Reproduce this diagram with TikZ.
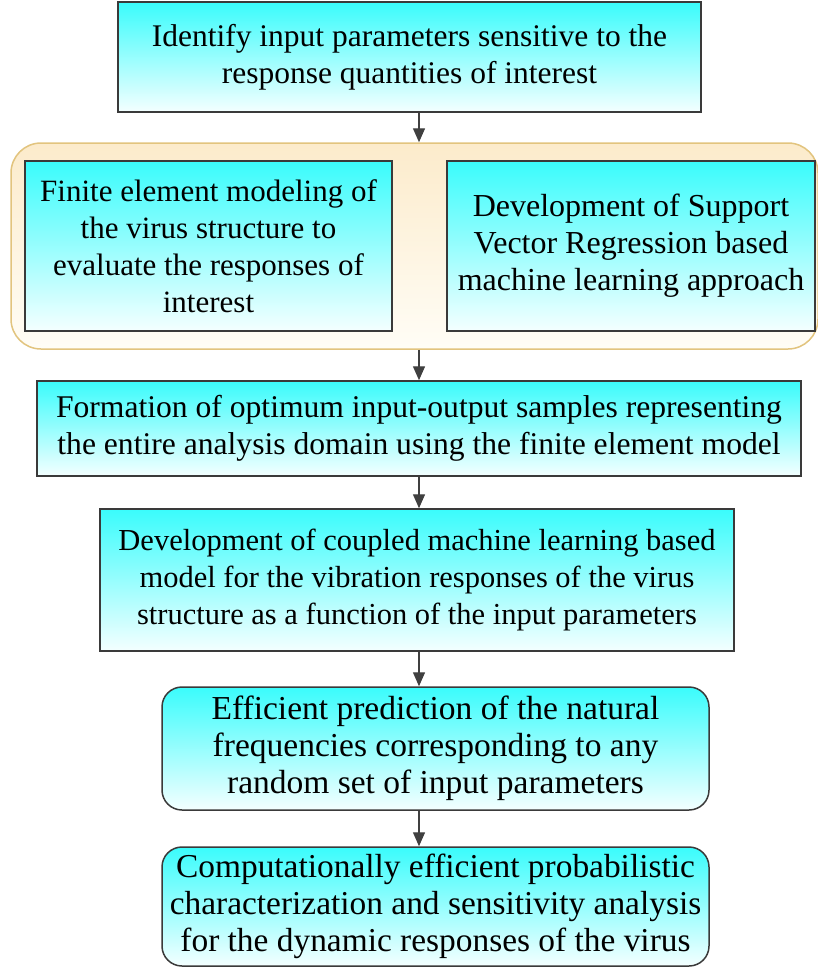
\documentclass[tikz,border=0pt]{standalone}
\usepackage{fontspec}
\setmainfont{Liberation Serif}
\usetikzlibrary{arrows.meta}
\definecolor{cyantop}{HTML}{3AFCFC}
\definecolor{cyanbot}{HTML}{F4FFFF}
\definecolor{boxline}{HTML}{3A3A3A}
\definecolor{creamtop}{HTML}{FCEBCB}
\definecolor{creambot}{HTML}{FFFDF6}
\definecolor{creamline}{HTML}{E2C47E}
\definecolor{arrowgray}{HTML}{404040}
\newcommand{\fsz}[1]{\fontsize{#1}{37}\selectfont}
\begin{document}
\begin{tikzpicture}[x=1pt,y=-1pt,
  stepbox/.style={draw=boxline, line width=1.5pt, top color=cyantop, bottom color=cyanbot,
    align=center, inner sep=0pt, font=\fsz{31}},
  roundbox/.style={stepbox, rounded corners=20pt},
  groupbox/.style={draw=creamline, line width=1.5pt, top color=creamtop, bottom color=creambot,
    rounded corners=30pt, inner sep=0pt},
  arr/.style={-{Triangle[length=14pt,width=12pt]}, line width=1.4pt, draw=arrowgray}]
\useasboundingbox (0,0) rectangle (818,974);
\fill[white] (0,0) rectangle (818,974);
\coordinate (ax) at (419,0);

\node[stepbox, font=\fsz{31.5}, minimum width=583pt, minimum height=110pt] (b1) at (409.5,57)
  {Identify input parameters sensitive to the\\response quantities of interest};

\node[groupbox, minimum width=807pt, minimum height=206pt] (grp) at (414.5,246) {};

\node[stepbox, font=\fsz{31}, minimum width=367pt, minimum height=170pt] (b2a) at (208.5,246)
  {Finite element modeling of\\the virus structure to\\evaluate the responses of\\interest};
\node[stepbox, font=\fsz{32}, minimum width=368pt, minimum height=170pt] (b2b) at (631,246)
  {Development of Support\\Vector Regression based\\machine learning approach};

\node[stepbox, font=\fsz{31.6}, minimum width=764pt, minimum height=95pt] (b3) at (419,428.5)
  {Formation of optimum input-output samples representing\\the entire analysis domain using the finite element model};

\node[stepbox, font=\fsz{30.5}, minimum width=634pt, minimum height=142pt] (b4) at (417,580)
  {Development of coupled machine learning based\\model for the vibration responses of the virus\\structure as a function of the input parameters};

\node[roundbox, font=\fsz{33.5}, minimum width=547pt, minimum height=123pt] (b5) at (435.5,748.5)
  {Efficient prediction of the natural\\frequencies corresponding to any\\random set of input parameters};

\node[roundbox, font=\fsz{33.4}, minimum width=547pt, minimum height=119pt] (b6) at (435.5,906.5)
  {Computationally efficient probabilistic\\characterization and sensitivity analysis\\for the dynamic responses of the virus};

\draw[arr] (b1.south -| ax) -- (grp.north -| ax);
\draw[arr] (grp.south -| ax) -- (b3.north -| ax);
\draw[arr] (b3.south -| ax) -- (b4.north -| ax);
\draw[arr] (b4.south -| ax) -- (b5.north -| ax);
\draw[arr] (b5.south -| ax) -- (b6.north -| ax);
\end{tikzpicture}
\end{document}
